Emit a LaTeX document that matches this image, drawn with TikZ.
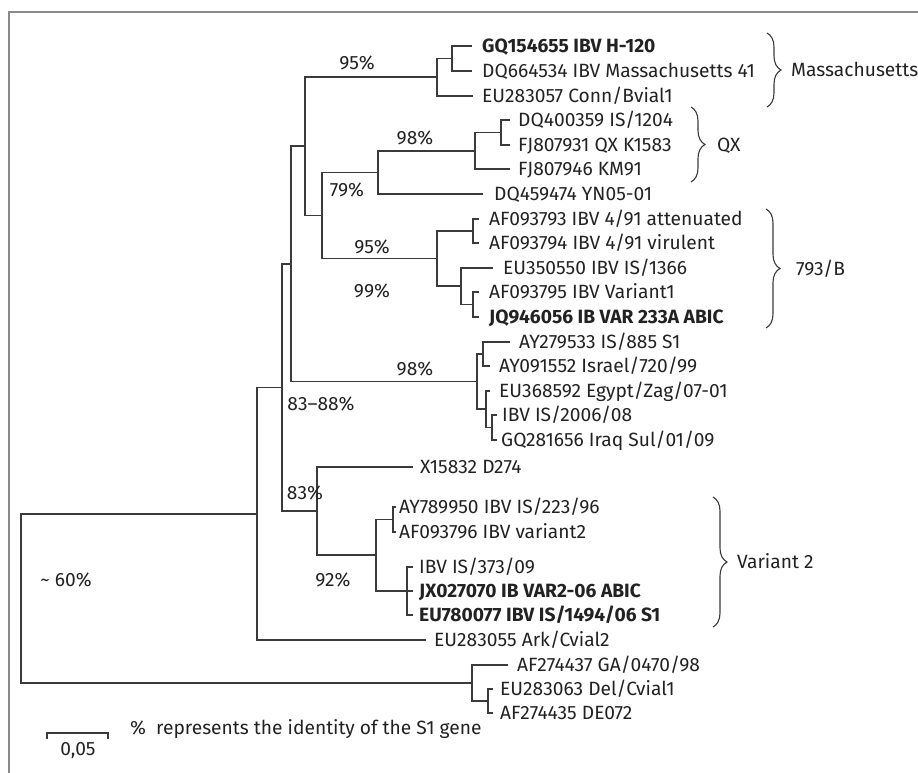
\documentclass[tikz,border=0pt]{standalone}
\usepackage{fontspec}
\setmainfont{Fira Sans}
\usetikzlibrary{decorations.pathreplacing}
\definecolor{linec}{HTML}{3A3A3A}
\definecolor{txtc}{HTML}{222222}
\definecolor{framec}{HTML}{8A8A8A}
\begin{document}
\begin{tikzpicture}[x=1pt,y=-1pt,
  br/.style={draw=linec, line width=1.1pt},
  lbl/.style={inner sep=0pt, text height=13pt, text depth=0pt, text=txtc, font=\fontsize{19.2}{22}\selectfont},
  leaf/.style={lbl, anchor=west},
  bleaf/.style={leaf, font=\fontsize{19.2}{22}\selectfont\bfseries},
  pct/.style={lbl, anchor=center},
  clade/.style={lbl, anchor=west},
  brc/.style={draw=linec, line width=1.1pt, decorate, decoration={brace, amplitude=14pt}}
]
\useasboundingbox (0,0) rectangle (918,773);
% frame
\coordinate (fBL) at (9,773);
\coordinate (fTL) at (9,12);
\coordinate (fTR) at (918,12);
\draw[draw=framec, line width=1.4pt] (fBL) -- (fTL) -- (fTR);

% internal nodes
\coordinate (nMa) at (452,58.5);
\coordinate (nM) at (437,77);
\coordinate (nQa) at (501,132.5);
\coordinate (nQ) at (475,151);
\coordinate (n79) at (378,172.5);
\coordinate (nB1) at (473,231);
\coordinate (nB3) at (473,304.5);
\coordinate (nB2) at (461,286);
\coordinate (nB) at (437,258.5);
\coordinate (nC) at (322,215.5);
\coordinate (nD) at (305,146);
\coordinate (nI1) at (483,354);
\coordinate (nI3) at (492,427.5);
\coordinate (nI2) at (486,409);
\coordinate (nI) at (477,381.5);
\coordinate (nE) at (291,264);
\coordinate (nV1) at (393,519.5);
\coordinate (nV2) at (407,591);
\coordinate (nV) at (376,555);
\coordinate (n83) at (317,511);
\coordinate (nF) at (282,387.5);
\coordinate (nG) at (257,514);
\coordinate (nH1) at (488,701);
\coordinate (nH) at (472,683);
\coordinate (root) at (21,598.5);

% leaf line ends
\coordinate (eGQ) at (472,46);
\coordinate (eDQ6) at (472,71);
\coordinate (eEU2) at (473,96);
\coordinate (eDQ4) at (510,120);
\coordinate (eFJ1) at (510,145);
\coordinate (eFJ2) at (510,169);
\coordinate (eDQ45) at (483,194);
\coordinate (eAF3) at (479,219);
\coordinate (eAF4) at (479,243);
\coordinate (eEU35) at (493,268);
\coordinate (eAF5) at (479,292);
\coordinate (eJQ) at (479,317);
\coordinate (eAY2) at (510,342);
\coordinate (eAY0) at (490,366);
\coordinate (eEU36) at (490,391);
\coordinate (eIS2006) at (497,415);
\coordinate (eGQ28) at (497,440);
\coordinate (eX15) at (413,467);
\coordinate (eAY7) at (396,507);
\coordinate (eAF6) at (396,532);
\coordinate (eIS373) at (413,567);
\coordinate (eJX) at (413,591);
\coordinate (eEU78) at (413,615);
\coordinate (eEU55) at (426,640);
\coordinate (eAF27) at (508,665);
\coordinate (eEU63) at (493,689);
\coordinate (eAF35) at (493,713);

% leaf labels
\node[bleaf] (GQ) at (482,46) {GQ154655 IBV H-120};
\node[leaf] (DQ6) at (482,71) {DQ664534 IBV Massachusetts 41};
\node[leaf] (EU2) at (482,96) {EU283057 Conn/Bvial1};
\node[leaf] (DQ4) at (518,120) {DQ400359 IS/1204};
\node[leaf] (FJ1) at (518,145) {FJ807931 QX K1583};
\node[leaf] (FJ2) at (518,169) {FJ807946 KM91};
\node[leaf] (DQ45) at (494,194) {DQ459474 YN05-01};
\node[leaf] (AF3) at (489,219) {AF093793 IBV 4/91 attenuated};
\node[leaf] (AF4) at (489,243) {AF093794 IBV 4/91 virulent};
\node[leaf] (EU35) at (503,268) {EU350550 IBV IS/1366};
\node[leaf] (AF5) at (489,292) {AF093795 IBV Variant1};
\node[bleaf] (JQ) at (489,317) {JQ946056 IB VAR 233A ABIC};
\node[leaf] (AY2) at (519,342) {AY279533 IS/885 S1};
\node[leaf] (AY0) at (499,366) {AY091552 Israel/720/99};
\node[leaf] (EU36) at (499,391) {EU368592 Egypt/Zag/07-01};
\node[leaf] (IS2006) at (502,415) {IBV IS/2006/08};
\node[leaf] (GQ28) at (501,440) {GQ281656 Iraq Sul/01/09};
\node[leaf] (X15) at (420,467) {X15832 D274};
\node[leaf] (AY7) at (399,507) {AY789950 IBV IS/223/96};
\node[leaf] (AF6) at (399,532) {AF093796 IBV variant2};
\node[leaf] (IS373) at (419,567) {IBV IS/373/09};
\node[bleaf] (JX) at (419,591) {JX027070 IB VAR2-06 ABIC};
\node[bleaf] (EU78) at (419,615) {EU780077 IBV IS/1494/06 S1};
\node[leaf] (EU55) at (434,640) {EU283055 Ark/Cvial2};
\node[leaf] (AF27) at (517,665) {AF274437 GA/0470/98};
\node[leaf] (EU63) at (500,689) {EU283063 Del/Cvial1};
\node[leaf] (AF35) at (500,713) {AF274435 DE072};

% branches
\draw[br] (nMa) |- (eGQ);
\draw[br] (nMa) |- (eDQ6);
\draw[br] (nM) |- (nMa);
\draw[br] (nM) |- (eEU2);
\draw[br] (nQa) |- (eDQ4);
\draw[br] (nQa) |- (eFJ1);
\draw[br] (nQ) |- (nQa);
\draw[br] (nQ) |- (eFJ2);
\draw[br] (n79) |- (nQ);
\draw[br] (n79) |- (eDQ45);
\draw[br] (nB1) |- (eAF3);
\draw[br] (nB1) |- (eAF4);
\draw[br] (nB3) |- (eAF5);
\draw[br] (nB3) |- (eJQ);
\draw[br] (nB2) |- (eEU35);
\draw[br] (nB2) |- (nB3);
\draw[br] (nB) |- (nB1);
\draw[br] (nB) |- (nB2);
\draw[br] (nC) |- (n79);
\draw[br] (nC) |- (nB);
\draw[br] (nD) |- (nM);
\draw[br] (nD) |- (nC);
\draw[br] (nI1) |- (eAY2);
\draw[br] (nI1) |- (eAY0);
\draw[br] (nI3) |- (eIS2006);
\draw[br] (nI3) |- (eGQ28);
\draw[br] (nI2) |- (eEU36);
\draw[br] (nI2) |- (nI3);
\draw[br] (nI) |- (nI1);
\draw[br] (nI) |- (nI2);
\draw[br] (nE) |- (nD);
\draw[br] (nE) |- (nI);
\draw[br] (nV1) |- (eAY7);
\draw[br] (nV1) |- (eAF6);
\draw[br] (nV2) |- (eIS373);
\draw[br] (nV2) |- (eJX);
\draw[br] (nV2) |- (eEU78);
\draw[br] (nV) |- (nV1);
\draw[br] (nV) |- (nV2);
\draw[br] (n83) |- (eX15);
\draw[br] (n83) |- (nV);
\draw[br] (nF) |- (nE);
\draw[br] (nF) |- (n83);
\draw[br] (nG) |- (nF);
\draw[br] (nG) |- (eEU55);
\draw[br] (nH1) |- (eEU63);
\draw[br] (nH1) |- (eAF35);
\draw[br] (nH) |- (eAF27);
\draw[br] (nH) |- (nH1);
\draw[br] (root) |- (nG);
\draw[br] (root) |- (nH);

% bootstrap labels
\node[pct] (p95a) at (357,63) {95\%};
\node[pct] (p98a) at (415,138) {98\%};
\node[pct] (p79) at (347,190) {79\%};
\node[pct] (p95b) at (372,247) {95\%};
\node[pct] (p99) at (372,291) {99\%};
\node[pct] (p98b) at (415,369) {98\%};
\node[pct] (p8388) at (321,404) {83–88\%};
\node[pct] (p83) at (305,493) {83\%};
\node[pct] (p92) at (333,580) {92\%};
\node[pct] (p60) at (66,580) {\textasciitilde\ 60\%};

% braces and clade names
\coordinate (bMt) at (767,33);
\coordinate (bMb) at (767,107);
\coordinate (bQt) at (691,107);
\coordinate (bQb) at (691,182);
\coordinate (bBt) at (766,209);
\coordinate (bBb) at (766,328);
\coordinate (bVt) at (713,497);
\coordinate (bVb) at (713,627);
\draw[brc] (bMt) -- (bMb);
\draw[brc] (bQt) -- (bQb);
\draw[brc] (bBt) -- (bBb);
\draw[brc] (bVt) -- (bVb);
\node[clade] (cM) at (791,70) {Massachusetts};
\node[clade] (cQ) at (717,144.5) {QX};
\node[clade] (cB) at (796,268.5) {793/B};
\node[clade] (cV) at (737,562) {Variant 2};

% scale bar and legend
\coordinate (sL) at (47,733);
\coordinate (sR) at (108,733);
\draw[br] ([yshift=-6pt]sL) -- (sL) -- (sR) -- ([yshift=-6pt]sR);
\node[pct] (s05) at (78,749) {0,05};
\node[leaf] (legend) at (130,728) {\%\ \ represents the identity of the S1 gene};
\end{tikzpicture}
\end{document}
